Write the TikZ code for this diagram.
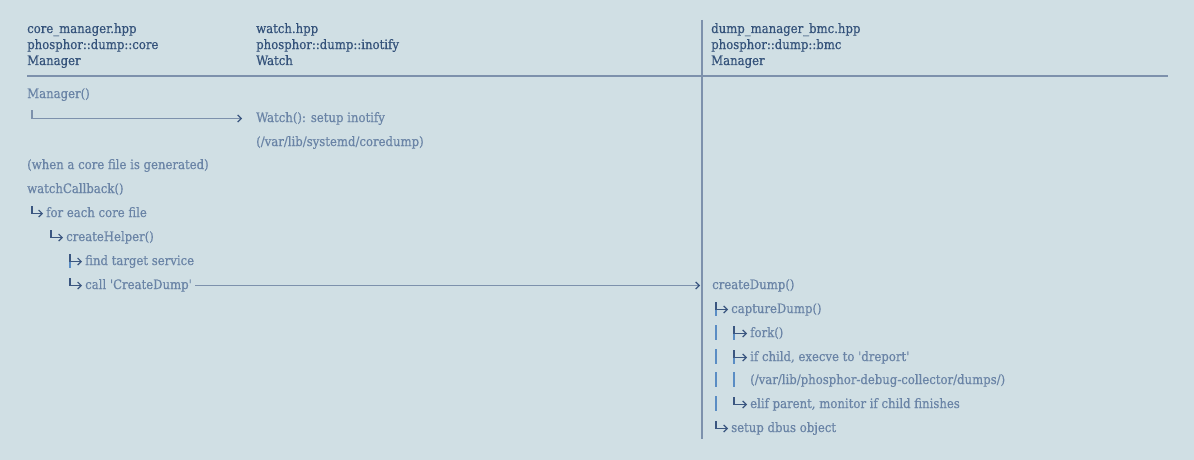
\documentclass[tikz,border=0pt]{standalone}
\usepackage{fontspec}
\setmainfont{DejaVu Serif Condensed}[FakeBold=0.6]
\usetikzlibrary{arrows.meta}
\definecolor{bgcol}{HTML}{D0DFE4}
\definecolor{hdrcol}{HTML}{34527A}
\definecolor{txtcol}{HTML}{6A84A6}
\definecolor{rulecol}{HTML}{7D91AC}
\definecolor{barcol}{HTML}{5A8DC4}
\definecolor{tipcol}{HTML}{3A5680}
\newcommand\sq{\textquotesingle}

\begin{document}
\begin{tikzpicture}[x=1pt,y=-1pt,
    every node/.style={inner sep=0pt,anchor=base west,font=\fontsize{13}{15}\selectfont},
    hdr/.style={text=hdrcol},
    txt/.style={text=txtcol,text height=10pt,text depth=3pt},
    rule/.style={draw=rulecol,line width=2.4pt},
    call/.style={draw=rulecol,line width=1.6pt,-{Straight Barb[length=3.5pt,width=7pt,color=tipcol,line width=1.2pt]}},
    twig/.style={draw=tipcol,line width=1.1pt,shorten >=3pt,-{Straight Barb[length=3.5pt,width=7pt,line width=1.2pt]}},
    bar/.style={draw=barcol,line width=1.2pt}]

  \fill[bgcol] (0,0) rectangle (1194,460);

  \node[hdr] (coreFile) at (27,33) {core\_manager.hpp};
  \node[hdr] (coreNs) at (27,49) {phosphor::dump::core};
  \node[hdr] (coreCls) at (27,65) {Manager};
  \node[hdr] (watchFile) at (256,33) {watch.hpp};
  \node[hdr] (watchNs) at (256,49) {phosphor::dump::inotify};
  \node[hdr] (watchCls) at (256,65) {Watch};
  \node[hdr] (bmcFile) at (711,33) {dump\_manager\_bmc.hpp};
  \node[hdr] (bmcNs) at (711,49) {phosphor::dump::bmc};
  \node[hdr] (bmcCls) at (711,65) {Manager};

  \draw[rule] (27,76) -- (1168,76);
  \draw[rule] (702,20) -- (702,439);

  \node[txt] (mgrCtor) at (27,98) {Manager()};
  \node[txt] (watchCtor) at (256,122) {Watch(): setup inotify};
  \node[txt] (watchDir) at (256,146) {(/var/lib/systemd/coredump)};
  \node[txt] (onCore) at (27,169) {(when a core file is generated)};
  \node[txt] (watchCb) at (27,193) {watchCallback()};
  \node[txt] (eachCore) at (46,217) {for each core file};
  \node[txt] (helper) at (66,241) {createHelper()};
  \node[txt] (findSvc) at (85,265) {find target service};
  \node[txt] (callDump) at (85,289) {call \sq CreateDump\sq};
  \node[txt] (createDump) at (712,289) {createDump()};
  \node[txt] (capture) at (731,313) {captureDump()};
  \node[txt] (fork) at (750,337) {fork()};
  \node[txt] (child) at (750,361) {if child, execve to \sq dreport\sq};
  \node[txt] (dumpDir) at (750,384) {(/var/lib/phosphor-debug-collector/dumps/)};
  \node[txt] (parent) at (750,408) {elif parent, monitor if child finishes};
  \node[txt] (dbus) at (731,432) {setup dbus object};

  \draw[call,shorten >=14pt] ([xshift=5pt,yshift=-9pt]mgrCtor.south west) |- (watchCtor.west);
  \draw[call,shorten <=3pt,shorten >=12pt] (callDump.east) -- (createDump.west);

  \foreach \kid/\dx in {eachCore/14,helper/15,findSvc/15,callDump/15,capture/15,fork/16,child/16,parent/16,dbus/15}
    \draw[twig] ([shift={(-\dx,-11)}]\kid.base west) |- (\kid.west);
  \foreach \kid/\dx in {findSvc/15,capture/15,fork/16,child/16}
    \draw[bar] ([shift={(-\dx,-3.5)}]\kid.base west) -- ++(0,6.5);
  \foreach \kid in {fork,child,dumpDir,parent}
    \draw[bar] ([shift={(-34,-12)}]\kid.base west) -- ++(0,15);
  \draw[bar] ([shift={(-16,-12)}]dumpDir.base west) -- ++(0,15);
\end{tikzpicture}
\end{document}
